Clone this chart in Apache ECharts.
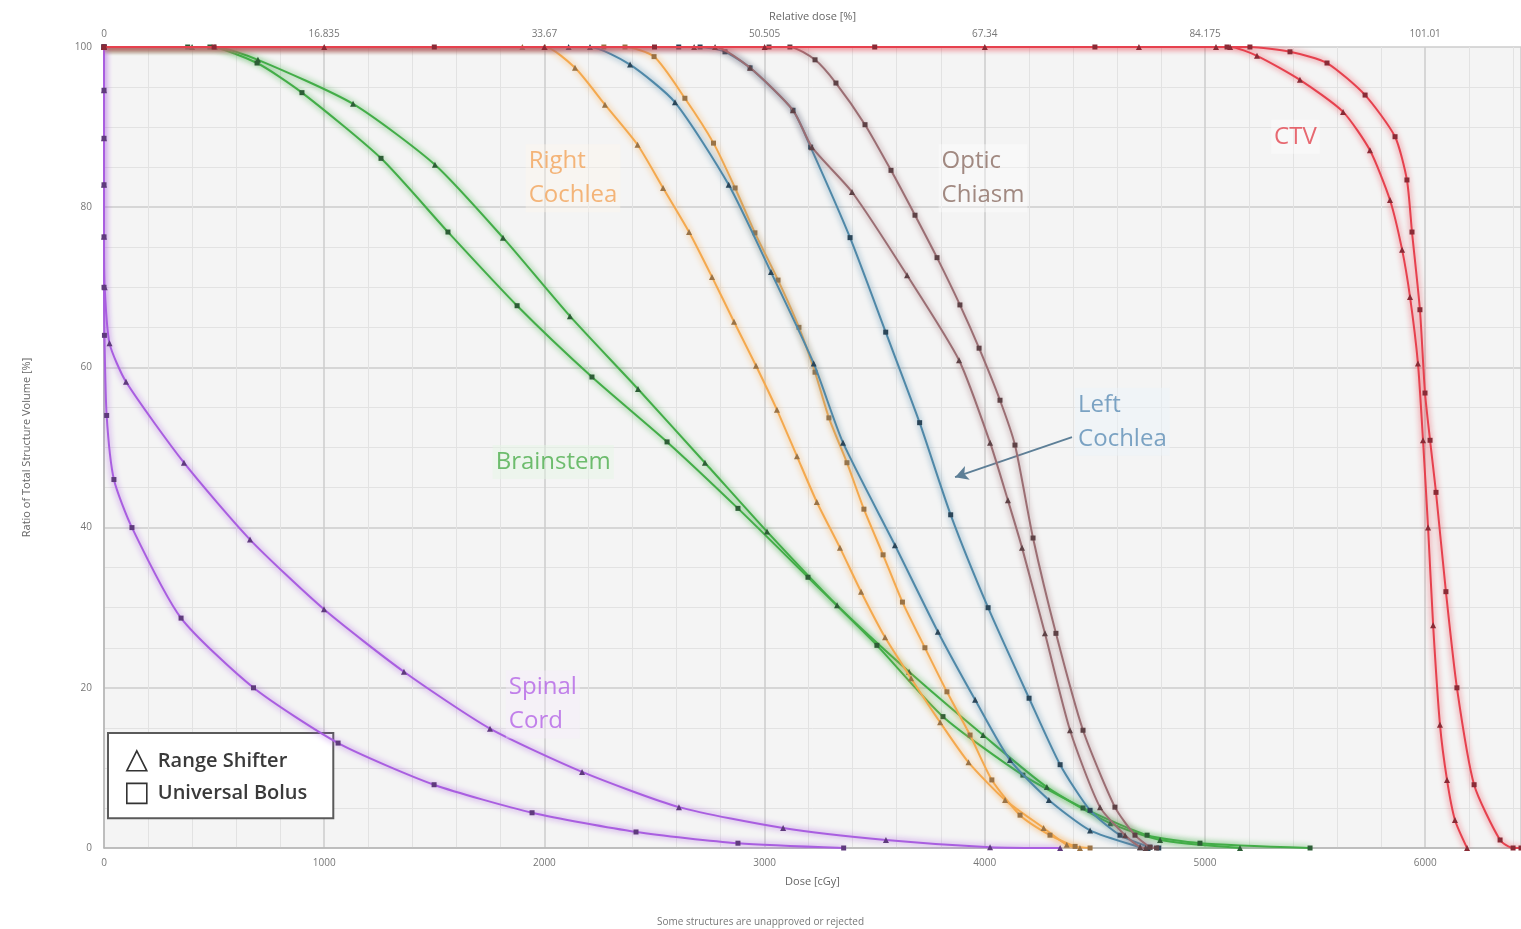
<!DOCTYPE html>
<html>
<head>
<meta charset="utf-8">
<title>Dose Volume Histogram</title>
<script src="https://cdn.jsdelivr.net/npm/echarts@6/dist/echarts.min.js"></script>
<style>
  html, body { margin: 0; padding: 0; background: #ffffff; }
  #chart { width: 1521px; height: 929px; }
</style>
</head>
<body>
<div id="chart"></div>
<script>
// Axis ticks
const doseTicks = [0, 1000, 2000, 3000, 4000, 5000, 6000];
const relativeDoseLabels = ['0', '16.835', '33.67', '50.505', '67.34', '84.175', '101.01'];
const volumeTicks = [0, 20, 40, 60, 80, 100];

// Cumulative DVH curves, points are [dose cGy, volume %]
const ctvRangeShifter = [[0,100],[1000,100],[2000,100],[3000,100],[4000,100],[4700,100],[5050,100],[5114,100],[5236,98.9],[5431,95.9],[5627,91.9],[5749,87.1],[5840,80.9],[5895,74.7],[5931,68.8],[5967,60.5],[5990,50.9],[6013,40.0],[6036,27.8],[6067,15.4],[6099,8.5],[6135,3.5],[6190,0]];
const ctvUniversalBolus = [[0,100],[500,100],[1500,100],[2500,100],[3500,100],[4500,100],[5100,100],[5204,100],[5386,99.4],[5554,98.0],[5727,94.0],[5863,88.8],[5917,83.4],[5940,76.9],[5976,67.2],[5999,56.8],[6022,50.9],[6049,44.4],[6094,32.0],[6144,20.0],[6222,7.9],[6340,1.0],[6399,0],[6435,0]];

const chiasmRangeShifter = [[0,100],[2680,100],[2775,100],[2934,97.4],[3129,92.1],[3215,87.5],[3397,81.9],[3647,71.5],[3883,60.9],[4024,50.6],[4105,43.4],[4169,37.5],[4273,26.8],[4387,14.7],[4523,5.1],[4637,1.6],[4705,0.1],[4730,0]];
const chiasmUniversalBolus = [[0,100],[3020,100],[3115,100],[3229,98.4],[3324,95.5],[3456,90.3],[3574,84.6],[3683,79.0],[3783,73.7],[3887,67.8],[3974,62.4],[4069,55.9],[4137,50.3],[4219,38.7],[4323,26.8],[4446,14.7],[4591,5.1],[4682,1.6],[4750,0.1],[4780,0]];

const rightCochleaRangeShifter = [[0,100],[1900,100],[2003,100],[2139,97.4],[2275,92.8],[2423,87.8],[2539,82.4],[2657,76.9],[2761,71.3],[2861,65.7],[2961,60.2],[3056,54.7],[3147,48.9],[3237,43.2],[3342,37.5],[3438,32.0],[3547,26.3],[3665,21.2],[3797,15.7],[3926,10.7],[4092,6.0],[4267,2.5],[4372,0.4],[4432,0]];
const rightCochleaUniversalBolus = [[0,100],[2270,100],[2366,100],[2498,98.8],[2638,93.6],[2768,88.0],[2866,82.4],[2956,76.8],[3061,70.9],[3156,65.0],[3229,59.4],[3292,53.7],[3374,48.1],[3451,42.3],[3538,36.6],[3626,30.7],[3728,25.0],[3828,19.5],[3933,14.1],[4032,8.5],[4160,4.1],[4296,1.6],[4410,0.2],[4478,0]];

const leftCochleaRangeShifter = [[0,100],[2110,100],[2207,100],[2389,97.8],[2593,93.1],[2837,82.8],[3029,71.9],[3223,60.5],[3356,50.6],[3592,37.8],[3787,27.0],[3956,18.5],[4114,11.0],[4291,6.0],[4478,2.2],[4705,0.1],[4740,0]];
const leftCochleaUniversalBolus = [[0,100],[2610,100],[2707,100],[2820,99.4],[2934,97.4],[3129,92.1],[3209,87.5],[3388,76.2],[3550,64.4],[3704,53.1],[3845,41.6],[4015,30.0],[4201,18.7],[4342,10.4],[4478,4.7],[4614,1.6],[4750,0.1],[4790,0]];

const brainstemRangeShifter = [[0,100],[400,100],[504,100],[699,98.4],[1131,92.9],[1503,85.3],[1812,76.2],[2116,66.4],[2425,57.3],[2729,48.1],[3011,39.5],[3329,30.3],[3656,22.0],[3992,14.1],[4282,7.6],[4569,3.1],[4796,1.0],[5159,0]];
const brainstemUniversalBolus = [[0,100],[380,100],[481,100],[695,98.0],[899,94.3],[1258,86.1],[1562,76.9],[1876,67.7],[2216,58.8],[2557,50.7],[2879,42.4],[3197,33.8],[3510,25.3],[3810,16.4],[4173,9.1],[4446,5.0],[4737,1.6],[4977,0.6],[5477,0]];

const spinalCordRangeShifter = [[0,100],[0,94.6],[0,88.6],[0,82.8],[0,76.3],[3,70.0],[25,63.0],[100,58.2],[363,48.1],[663,38.5],[999,29.8],[1362,22.0],[1753,14.9],[2171,9.5],[2611,5.1],[3084,2.5],[3551,1.0],[4024,0.1],[4342,0]];
const spinalCordUniversalBolus = [[0,100],[0,94.6],[0,88.6],[0,82.8],[0,76.3],[0,70.0],[2,64.0],[12,54.0],[45,46.0],[127,40.0],[350,28.7],[679,20.0],[1063,13.1],[1499,7.9],[1944,4.4],[2416,2.0],[2879,0.6],[3359,0]];

// Structure labels placed inside the plot
const structureLabels = [
  { at: [5300, 88.8], text: 'CTV', color: '#e2454f', tint: 'rgba(255,255,255,0.45)' },
  { at: [3790, 83.6], text: 'Optic\nChiasm', color: '#8b6d63', tint: 'rgba(255,255,255,0.45)' },
  { at: [1915, 83.6], text: 'Right\nCochlea', color: '#f2a45a', tint: 'rgba(255,246,236,0.45)' },
  { at: [4410, 53.2], text: 'Left\nCochlea', color: '#5c8db5', tint: 'rgba(234,243,250,0.55)' },
  { at: [1765, 48.2], text: 'Brainstem', color: '#4cae4c', tint: 'rgba(228,246,228,0.55)' },
  { at: [1825, 17.9], text: 'Spinal\nCord', color: '#b464e6', tint: 'rgba(247,236,252,0.45)' }
];
const leftCochleaArrow = [[4396, 51.3], [3865, 46.3]];

const FONT = '"Open Sans", "Liberation Sans", sans-serif';

function dvhSeries(name, data, color, markColor, symbol, z) {
  return {
    type: 'line',
    name: name,
    data: data,
    smooth: 0.22,
    symbol: symbol,
    symbolSize: symbol === 'triangle' ? 6 : 5,
    showSymbol: true,
    z: z,
    lineStyle: { color: color, width: 2, shadowColor: color, shadowBlur: 6 },
    itemStyle: { color: markColor },
    emphasis: { disabled: true },
    animation: false
  };
}

const series = [
  dvhSeries('Range Shifter', brainstemRangeShifter, '#43ad48', '#2d5e36', 'triangle', 3),
  dvhSeries('Universal Bolus', brainstemUniversalBolus, '#43ad48', '#2d5e36', 'rect', 3),
  dvhSeries('Range Shifter', rightCochleaRangeShifter, '#f4a94e', '#9a7346', 'triangle', 4),
  dvhSeries('Universal Bolus', rightCochleaUniversalBolus, '#f4a94e', '#9a7346', 'rect', 4),
  dvhSeries('Range Shifter', leftCochleaRangeShifter, '#4f88a8', '#2b4659', 'triangle', 5),
  dvhSeries('Universal Bolus', leftCochleaUniversalBolus, '#4f88a8', '#2b4659', 'rect', 5),
  dvhSeries('Range Shifter', chiasmRangeShifter, '#9b6e73', '#5e4246', 'triangle', 6),
  dvhSeries('Universal Bolus', chiasmUniversalBolus, '#9b6e73', '#5e4246', 'rect', 6),
  dvhSeries('Range Shifter', spinalCordRangeShifter, '#a95ee0', '#5f3a7d', 'triangle', 7),
  dvhSeries('Universal Bolus', spinalCordUniversalBolus, '#a95ee0', '#5f3a7d', 'rect', 7),
  dvhSeries('Range Shifter', ctvRangeShifter, '#e6414e', '#8a2b36', 'triangle', 8),
  dvhSeries('Universal Bolus', ctvUniversalBolus, '#e6414e', '#8a2b36', 'rect', 8),
  {
    type: 'scatter',
    name: 'labels',
    z: 10,
    symbolSize: 0,
    silent: true,
    animation: false,
    data: structureLabels.map(l => ({
      value: l.at,
      label: {
        show: true,
        position: 'right',
        distance: 0,
        formatter: l.text,
        color: l.color,
        fontSize: 24,
        lineHeight: 34,
        fontFamily: FONT,
        backgroundColor: l.tint,
        padding: [0, 3]
      }
    })),
    markLine: {
      silent: true,
      animation: false,
      symbol: ['none', 'arrow'],
      symbolSize: [11, 13],
      label: { show: false },
      lineStyle: { color: '#5d7f97', width: 2, type: 'solid' },
      data: [[{ coord: leftCochleaArrow[0] }, { coord: leftCochleaArrow[1] }]]
    }
  }
];

const chart = echarts.init(document.getElementById('chart'), null, { renderer: 'canvas' });

chart.setOption({
  backgroundColor: '#ffffff',
  animation: false,
  grid: {
    left: 104, right: 0, top: 47, bottom: 81,
    show: true, backgroundColor: '#f4f4f4', borderWidth: 0
  },
  legend: {
    left: 108, top: 733,
    orient: 'vertical',
    backgroundColor: '#ffffff',
    borderColor: '#5a5a5a',
    borderWidth: 2,
    padding: [17, 26, 14, 18],
    itemGap: 11,
    itemWidth: 20,
    itemHeight: 20,
    selectedMode: false,
    textStyle: { fontSize: 20, fontWeight: 600, color: '#3a3a3a', fontFamily: FONT, padding: [0, 0, 0, 6] },
    data: [
      { name: 'Range Shifter', icon: 'triangle', itemStyle: { color: '#ffffff', borderColor: '#333333', borderWidth: 1.6 } },
      { name: 'Universal Bolus', icon: 'rect', itemStyle: { color: '#ffffff', borderColor: '#333333', borderWidth: 1.6 } }
    ]
  },
  xAxis: [
    {
      type: 'value', position: 'bottom',
      min: 0, max: 6435, interval: 1000,
      name: 'Dose [cGy]', nameLocation: 'middle', nameGap: 28,
      nameTextStyle: { fontSize: 11, color: '#666', fontFamily: FONT },
      axisLine: { show: true, lineStyle: { color: '#b5b5b5', width: 1.5 } },
      axisTick: { show: false },
      axisLabel: {
        fontSize: 10, color: '#777', margin: 10, fontFamily: FONT, showMaxLabel: false,
        formatter: v => (doseTicks.indexOf(v) >= 0 ? String(v) : '')
      },
      splitLine: { show: true, lineStyle: { color: '#cdcdcd', width: 1.5 } },
      minorTick: { show: false, splitNumber: 5 },
      minorSplitLine: { show: true, lineStyle: { color: '#e2e2e2', width: 1 } }
    },
    {
      type: 'value', position: 'top',
      min: 0, max: 6435, interval: 1000,
      name: 'Relative dose [%]', nameLocation: 'middle', nameGap: 25,
      nameTextStyle: { fontSize: 11, color: '#666', fontFamily: FONT },
      axisLine: { show: false },
      axisTick: { show: false },
      axisLabel: {
        fontSize: 10, color: '#777', margin: 8, fontFamily: FONT, showMaxLabel: false,
        formatter: v => {
          const i = doseTicks.indexOf(v);
          return i >= 0 ? relativeDoseLabels[i] : '';
        }
      },
      splitLine: { show: false }
    }
  ],
  yAxis: {
    type: 'value',
    min: 0, max: 100, interval: 20,
    name: 'Ratio of Total Structure Volume [%]', nameLocation: 'middle', nameGap: 72,
    nameTextStyle: { fontSize: 11, color: '#666', fontFamily: FONT },
    axisLine: { show: true, lineStyle: { color: '#b5b5b5', width: 1.5 } },
    axisTick: { show: false },
    axisLabel: {
      fontSize: 10, color: '#777', margin: 12, fontFamily: FONT,
      formatter: v => (volumeTicks.indexOf(v) >= 0 ? String(v) : '')
    },
    splitLine: { show: true, lineStyle: { color: '#cdcdcd', width: 1.5 } },
    minorTick: { show: false, splitNumber: 4 },
    minorSplitLine: { show: true, lineStyle: { color: '#e2e2e2', width: 1 } }
  },
  graphic: [
    {
      type: 'text', left: 'center', top: 917,
      style: { text: 'Some structures are unapproved or rejected', fontSize: 10, fill: '#777', fontFamily: FONT }
    }
  ],
  series: series
});
</script>
</body>
</html>
